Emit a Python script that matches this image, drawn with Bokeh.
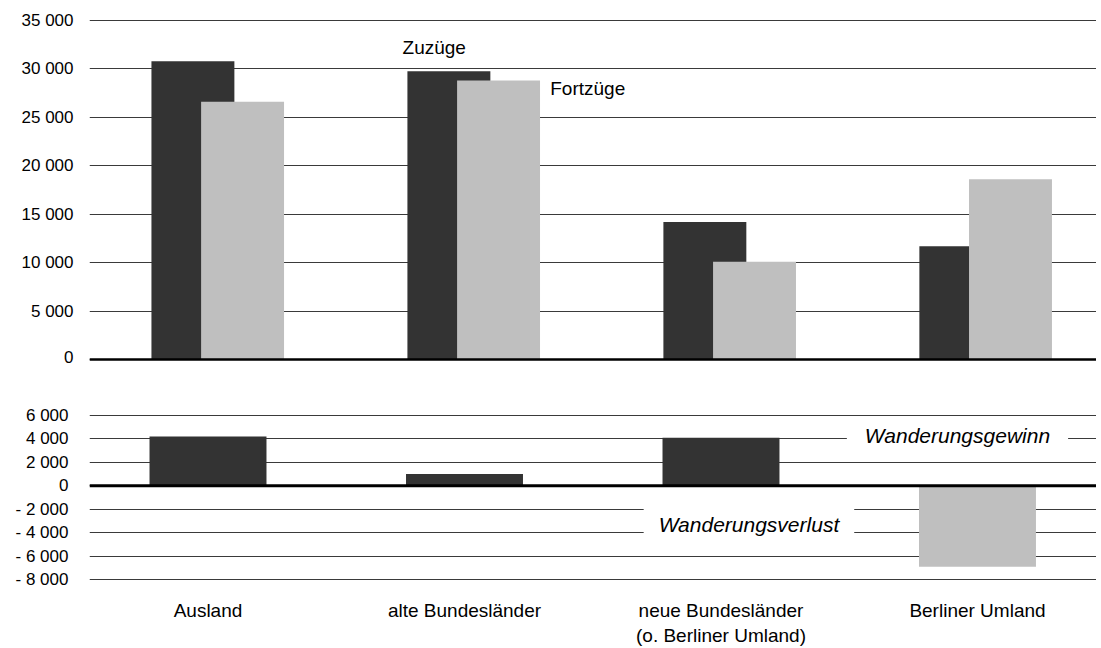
import numpy as np
from bokeh.plotting import figure
from bokeh.layouts import column
from bokeh.models import ColumnDataSource, FixedTicker, Span, Label, Range1d
from bokeh.embed import file_html
from bokeh.resources import INLINE

categories = ["Ausland", "alte Bundesländer", "neue Bundesländer\n(o. Berliner Umland)", "Berliner Umland"]
zuzuege = [30800, 29750, 14200, 11700]
fortzuege = [26600, 28800, 10100, 18600]
saldo = [4200, 1000, 4100, -6900]
top_ticks = [0, 5000, 10000, 15000, 20000, 25000, 30000, 35000]
bottom_ticks = [-8000, -6000, -4000, -2000, 0, 2000, 4000, 6000]

DARK = "#333333"
LIGHT = "#bfbfbf"
FONT = "Liberation Sans"


def fmt(v):
    s = f"{abs(v):,}".replace(",", " ")
    return ("- " + s) if v < 0 else s


idx = np.arange(len(categories))

# ---------- top panel ----------
p1 = figure(width=1096, height=366, output_backend="svg", toolbar_location=None,
            x_range=Range1d(-0.5, 3.434), y_range=Range1d(-723, 35619),
            x_axis_location=None, min_border_top=14, min_border_bottom=0,
            min_border_left=89, min_border_right=0)
p1.title.visible = False
p1.outline_line_color = None
p1.xgrid.visible = False
p1.ygrid.ticker = FixedTicker(ticks=top_ticks)
p1.ygrid.grid_line_color = "#3a3a3a"
p1.ygrid.grid_line_width = 1
p1.yaxis.ticker = FixedTicker(ticks=top_ticks)
p1.yaxis.major_label_overrides = {t: fmt(t) for t in top_ticks}
p1.yaxis.axis_line_color = None
p1.yaxis.major_tick_line_color = None
p1.yaxis.minor_tick_line_color = None
p1.yaxis.major_tick_out = 0
p1.yaxis.major_label_standoff = 16
p1.yaxis.major_label_text_font = FONT
p1.yaxis.major_label_text_font_size = "17px"
p1.yaxis.major_label_text_color = "black"

src_top = ColumnDataSource(dict(xd=idx - 0.096, xl=idx + 0.098, zu=zuzuege, fo=fortzuege))
p1.vbar(x="xd", top="zu", bottom=0, width=0.324, source=src_top, fill_color=DARK, line_color=None)
p1.vbar(x="xl", top="fo", bottom=0, width=0.324, source=src_top, fill_color=LIGHT, line_color=None)
p1.add_layout(Span(location=0, dimension="width", line_color="black", line_width=2.5))

p1.add_layout(Label(x=0.723, y=32200, text="Zuzüge", text_align="left", text_baseline="middle",
                    text_font=FONT, text_font_size="19px", text_color="black"))
p1.add_layout(Label(x=1.30, y=28000, text="Fortzüge", text_align="left", text_baseline="middle",
                    text_font=FONT, text_font_size="19px", text_color="black"))

# ---------- bottom panel ----------
p2 = figure(width=1096, height=282, output_backend="svg", toolbar_location=None,
            x_range=Range1d(-0.462, 3.464), y_range=Range1d(-8750, 7273),
            min_border_top=34, min_border_bottom=58, min_border_left=89, min_border_right=0)
p2.title.visible = False
p2.outline_line_color = None
p2.xgrid.visible = False
p2.ygrid.ticker = FixedTicker(ticks=bottom_ticks)
p2.ygrid.grid_line_color = "#3a3a3a"
p2.ygrid.grid_line_width = 1
p2.yaxis.ticker = FixedTicker(ticks=bottom_ticks)
p2.yaxis.major_label_overrides = {t: fmt(t) for t in bottom_ticks}
p2.yaxis.axis_line_color = None
p2.yaxis.major_tick_line_color = None
p2.yaxis.minor_tick_line_color = None
p2.yaxis.major_tick_out = 0
p2.yaxis.major_label_standoff = 21
p2.yaxis.major_label_text_font = FONT
p2.yaxis.major_label_text_font_size = "17px"
p2.yaxis.major_label_text_color = "black"

p2.xaxis.ticker = FixedTicker(ticks=list(range(len(categories))))
p2.xaxis.major_label_overrides = {i: c for i, c in enumerate(categories)}
p2.xaxis.axis_line_color = None
p2.xaxis.major_tick_line_color = None
p2.xaxis.minor_tick_line_color = None
p2.xaxis.major_tick_out = 0
p2.xaxis.major_label_standoff = 11
p2.xaxis.major_label_text_font = FONT
p2.xaxis.major_label_text_font_size = "19px"
p2.xaxis.major_label_text_color = "black"

colors = [DARK if v >= 0 else LIGHT for v in saldo]
src_bot = ColumnDataSource(dict(x=idx, top=saldo, color=colors))
p2.vbar(x="x", top="top", bottom=0, width=0.456, source=src_bot, fill_color="color", line_color=None)
p2.add_layout(Span(location=0, dimension="width", line_color="black", line_width=3))

p2.add_layout(Label(x=2.922, y=4285, text="Wanderungsgewinn", text_align="center", text_baseline="middle",
                    text_font=FONT, text_font_style="italic", text_font_size="21px", text_color="black",
                    background_fill_color="white", padding=(18, 3)))
p2.add_layout(Label(x=2.109, y=-3267, text="Wanderungsverlust", text_align="center", text_baseline="middle",
                    text_font=FONT, text_font_style="italic", text_font_size="21px", text_color="black",
                    background_fill_color="white", padding=(15, 12)))

layout = column(p1, p2, spacing=0)
open("out.html", "w").write(file_html(layout, INLINE))
